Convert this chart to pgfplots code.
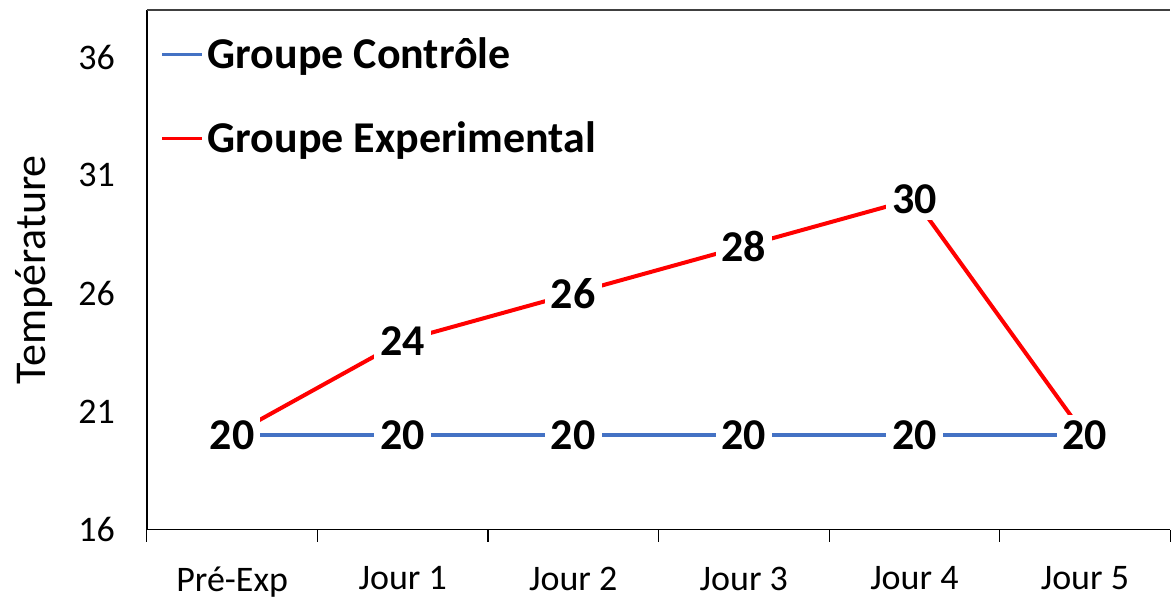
\documentclass[border=0pt]{standalone}
\usepackage{fontspec}
\setmainfont{Carlito}
\usepackage{pgfplots}
\pgfplotsset{compat=1.18}
\definecolor{cblue}{HTML}{4472C4}
\definecolor{cred}{HTML}{FF0000}
\begin{document}
\begin{tikzpicture}
\begin{axis}[
  scale only axis,
  width=512pt, height=260pt,
  xmin=-0.5, xmax=5.5,
  ymin=16, ymax=38,
  axis lines*=left,
  axis line style={black, line width=0.8pt, -},
  xtick={0,1,2,3,4,5},
  xticklabels={Pré-Exp, Jour 1, Jour 2, Jour 3, Jour 4, Jour 5},
  minor xtick={-0.5,0.5,1.5,2.5,3.5,4.5,5.5},
  major tick length=0pt,
  minor tick length=6pt,
  tick align=outside,
  minor tick style={black, line width=0.6pt},
  ytick={16,21,26,31,36},
  /pgf/number format/assume math mode=true,
  ticklabel style={font=\fontsize{18}{18}\selectfont},
  yticklabel style={xshift=-12.5pt},
  xticklabel style={yshift=-15pt},
  ylabel={Température},
  ylabel style={at={(axis description cs:-0.1289,0.5)}, anchor=north, inner sep=0pt, font=\fontsize{22}{22}\selectfont},
  legend style={draw=none, fill=none, at={(axis description cs:0.013,0.955)}, anchor=north west,
    font=\bfseries\fontsize{22}{22}\selectfont, row sep=21pt, inner sep=0pt},
  legend cell align=left,
  legend image code/.code={\draw[#1, line width=1.6pt] (0pt,0pt) -- (20pt,0pt);},
  clip=false,
]
\addplot[cblue, line width=2.2pt] coordinates {(0,20) (1,20) (2,20) (3,20) (4,20) (5,20)};
\addlegendentry{Groupe Contrôle}
\addplot[cred, line width=2pt] coordinates {(0,20) (1,24) (2,26) (3,28) (4,30) (5,20)};
\addlegendentry{Groupe Experimental}
\addplot[draw=none, forget plot, nodes near coords,
  every node near coord/.append style={anchor=center, fill=white, inner sep=3pt,
    font=\bfseries\fontsize{22}{22}\selectfont}]
  coordinates {(0,20) (1,20) (2,20) (3,20) (4,20) (5,20)};
\addplot[draw=none, forget plot, nodes near coords,
  every node near coord/.append style={anchor=center, fill=white, inner sep=3pt,
    font=\bfseries\fontsize{22}{22}\selectfont}]
  coordinates {(1,24) (2,26) (3,28) (4,30)};
\draw[black!75, line width=0.8pt] (rel axis cs:0,1) -- (rel axis cs:1,1);
\path (rel axis cs:0,1) -- ++(0pt,5pt);
\path (rel axis cs:0,0.5) -- ++(-73.5pt,0pt);
\end{axis}
\end{tikzpicture}
\end{document}
